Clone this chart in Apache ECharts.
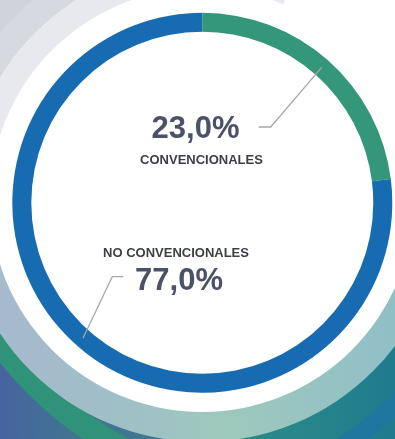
<!DOCTYPE html>
<html>
<head>
<meta charset="utf-8">
<style>
  html, body { margin: 0; padding: 0; background: #ffffff; }
  #chart { width: 395px; height: 439px; }
</style>
<script src="https://cdn.jsdelivr.net/npm/echarts@6/dist/echarts.min.js"></script>
</head>
<body>
<div id="chart"></div>
<script>
// Share of energy sources
const categories = ['CONVENCIONALES', 'NO CONVENCIONALES'];
const shares = [23.0, 77.0];
const sliceColors = ['#34977a', '#176bb0'];

// Ring geometry
const CX = 202.3, CY = 202.8;
const R_IN = 171, R_OUT = 190;
const START_DEG = 90;

// Label blocks: centre of text block and the two elbow points of the leader line
const labelPlacement = [
  { x: 201.5, y: 142.5, elbow: [270.7, 127], end: [258.7, 127] },
  { x: 176, y: 269.5, elbow: [112.3, 276.7], end: [123.3, 276.7] }
];

const fmtPct = v => v.toFixed(1).replace('.', ',') + '%';
const deg = d => d * Math.PI / 180;

// Mid-band point of a slice, from its share of the whole
function sliceAnchor(idx) {
  const total = shares.reduce((a, b) => a + b, 0);
  let before = 0;
  for (let i = 0; i < idx; i++) before += shares[i];
  const midFrac = (before + shares[idx] / 2) / total;
  const a = deg(START_DEG - midFrac * 360);
  const rMid = (R_IN + R_OUT) / 2;
  return [CX + rMid * Math.cos(a), CY - rMid * Math.sin(a)];
}

// Decorative backdrop around the ring
const BX = 202, BY = 200;
const backdrop = [
  { type: 'rect', z: 0.1, shape: { x: 0, y: 290, width: 395, height: 149 },
    style: { fill: new echarts.graphic.LinearGradient(0, 0, 1, 0, [
      { offset: 0, color: '#4664a0' }, { offset: 0.25, color: '#3f7a8b' },
      { offset: 0.5, color: '#2d8a80' }, { offset: 0.75, color: '#27878a' },
      { offset: 1, color: '#1f7b8d' }]) } },
  { type: 'sector', z: 0.2, shape: { cx: BX, cy: BY, r0: 0, r: 254, startAngle: deg(90), endAngle: deg(180) },
    style: { fill: '#3f7690' } },
  { type: 'sector', z: 0.3, shape: { cx: 300, cy: 120, r0: 362, r: 386, startAngle: deg(90), endAngle: deg(200) },
    style: { fill: '#31927a' } },
  { type: 'sector', z: 0.35, shape: { cx: 150, cy: 150, r0: 344, r: 362, startAngle: deg(-20), endAngle: deg(80) },
    style: { fill: '#1f77a0' } },
  { type: 'sector', z: 0.4, shape: { cx: BX, cy: BY, r0: 0, r: 242, startAngle: deg(0), endAngle: deg(180) },
    style: { fill: new echarts.graphic.LinearGradient(0, 0, 1, 0, [
      { offset: 0, color: '#a9b8d0' }, { offset: 0.3, color: '#a0bec8' },
      { offset: 0.55, color: '#9dc9bc' }, { offset: 0.75, color: '#96c3c2' },
      { offset: 1, color: '#8ebccb' }]) } },
  { type: 'sector', z: 0.5, shape: { cx: BX, cy: BY, r0: 236, r: 700, startAngle: deg(180), endAngle: deg(292.5) },
    style: { fill: '#d6d9e0' } },
  { type: 'sector', z: 0.55, shape: { cx: BX, cy: BY, r0: 262, r: 700, startAngle: deg(180), endAngle: deg(292.5) },
    style: { fill: '#cfd3db' } },
  { type: 'sector', z: 0.6, shape: { cx: BX, cy: BY, r0: 0, r: 236, startAngle: deg(180), endAngle: deg(292.5) },
    style: { fill: '#e8e9ee' } },
  { type: 'circle', z: 0.7, shape: { cx: BX, cy: BY, r: 212 }, style: { fill: '#ffffff' } }
];

const pieData = categories.map((name, i) => ({
  name: name,
  value: shares[i],
  itemStyle: { color: sliceColors[i] }
}));

const richText = {
  v:  { fontFamily: 'Liberation Sans, Arial, sans-serif', fontSize: 31, fontWeight: 'bold', color: '#4b5167', lineHeight: 36, padding: [0, 12, 0, 0] },
  n:  { fontFamily: 'Liberation Sans, Arial, sans-serif', fontSize: 13, fontWeight: 'bold', color: '#3d3f46', lineHeight: 27 },
  n2: { fontFamily: 'Liberation Sans, Arial, sans-serif', fontSize: 13, fontWeight: 'bold', color: '#3d3f46', lineHeight: 24 },
  v2: { fontFamily: 'Liberation Sans, Arial, sans-serif', fontSize: 31, fontWeight: 'bold', color: '#4b5167', lineHeight: 32, padding: [0, 0, 0, 6] }
};

const chart = echarts.init(document.getElementById('chart'), null, { renderer: 'canvas' });

chart.setOption({
  animation: false,
  backgroundColor: '#ffffff',
  graphic: { elements: backdrop },
  series: [
    {
      // the coloured ring
      type: 'pie',
      z: 2,
      center: [CX, CY],
      radius: [R_IN, R_OUT],
      startAngle: START_DEG,
      clockwise: true,
      silent: true,
      itemStyle: { borderWidth: 0 },
      label: { show: false },
      labelLine: { show: false },
      data: pieData
    },
    {
      // transparent copy carrying the value labels and leader lines above the ring
      type: 'pie',
      z: 3,
      center: [CX, CY],
      radius: [R_IN, R_OUT],
      startAngle: START_DEG,
      clockwise: true,
      silent: true,
      avoidLabelOverlap: false,
      itemStyle: { color: 'rgba(0,0,0,0)', borderWidth: 0 },
      label: {
        show: true,
        position: 'outside',
        fontFamily: 'Liberation Sans, Arial, sans-serif',
        formatter: p => p.dataIndex === 0
          ? '{v|' + fmtPct(p.value) + '}\n{n|' + p.name + '}'
          : '{n2|' + p.name + '}\n{v2|' + fmtPct(p.value) + '}',
        rich: richText
      },
      labelLine: {
        show: true,
        showAbove: true,
        length: 10,
        length2: 10,
        smooth: false,
        minTurnAngle: 0,
        maxSurfaceAngle: 180,
        lineStyle: { color: '#a8a8a8', width: 1.3 }
      },
      labelLayout: function (params) {
        const place = labelPlacement[params.dataIndex];
        return {
          x: place.x,
          y: place.y,
          align: 'center',
          verticalAlign: 'middle',
          labelLinePoints: [sliceAnchor(params.dataIndex), place.elbow, place.end]
        };
      },
      data: categories.map((name, i) => ({ name: name, value: shares[i] }))
    }
  ]
});
</script>
</body>
</html>
